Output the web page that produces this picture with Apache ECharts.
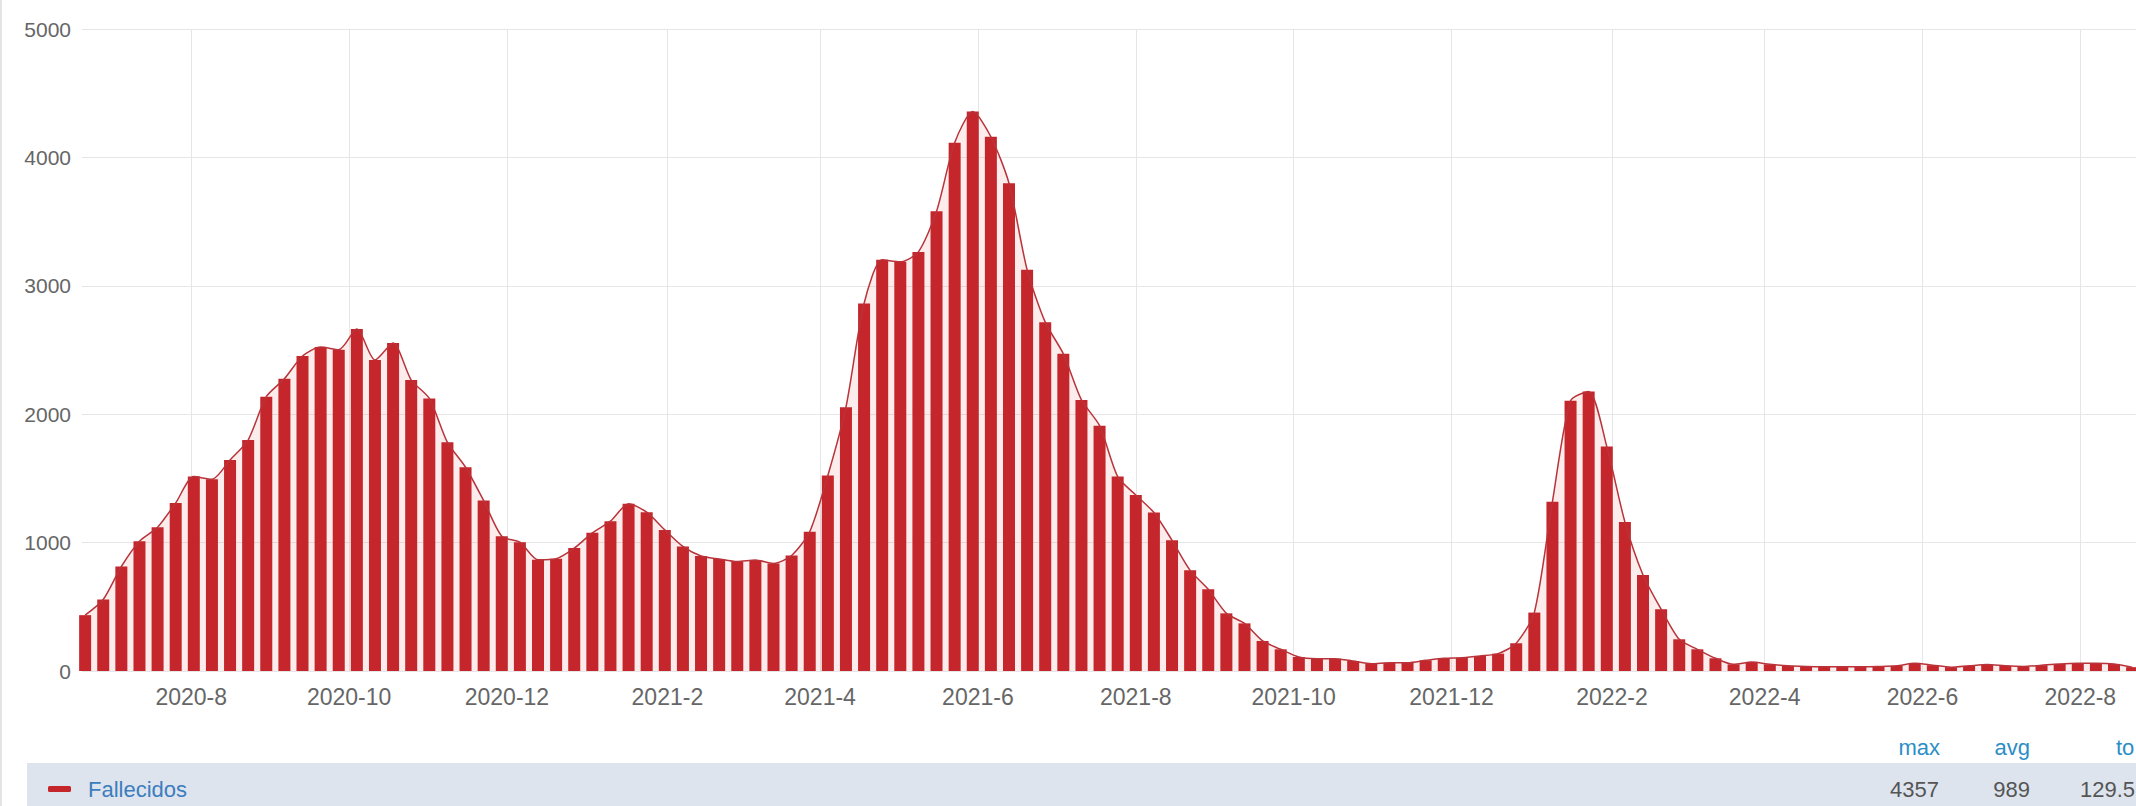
<!DOCTYPE html>
<html>
<head>
<meta charset="utf-8">
<script src="https://cdn.jsdelivr.net/npm/echarts@6/dist/echarts.min.js"></script>
<style>
html, body { margin: 0; padding: 0; background: #fff; }
#chart { width: 2136px; height: 806px; }
</style>
</head>
<body>
<div id="chart"></div>
<script>
// weekly deaths, first week starts 2020-06-21
const firstWeek = '2020-06-21';
const fallecidos = [
	435, 557, 814, 1011, 1120, 1309, 1514, 1493, 1644, 1799,
	2136, 2276, 2453, 2523, 2502, 2663, 2422, 2554, 2266, 2123,
	1781, 1587, 1327, 1050, 1003, 866, 874, 957, 1076, 1167,
	1302, 1237, 1099, 970, 895, 872, 852, 864, 838, 900,
	1085, 1522, 2055, 2862, 3202, 3187, 3264, 3580, 4114, 4357,
	4161, 3799, 3125, 2717, 2470, 2111, 1911, 1514, 1371, 1234,
	1018, 784, 636, 449, 371, 234, 169, 109, 96, 96,
	78, 57, 65, 65, 83, 99, 104, 117, 135, 216,
	455, 1319, 2104, 2177, 1748, 1161, 748, 481, 247, 169,
	99, 52, 70, 52, 40, 35, 33, 33, 33, 35,
	40, 60, 45, 30, 40, 50, 40, 35, 45, 55,
	60, 60, 55, 30
];
const monthLabels = [
	'2020-8', '2020-10', '2020-12', '2021-2', '2021-4', '2021-6', '2021-8',
	'2021-10', '2021-12', '2022-2', '2022-4', '2022-6', '2022-8'
];
// the stats row is cut by the right edge in the original, only these parts show
const statHeaders = ['max', 'avg', 'to'];
const statValues = ['4357', '989', '129.5'];

const font = "'Liberation Sans', Arial, sans-serif";

function parseDay(s) {
	let p = s.split('-');
	return new Date(+p[0], +p[1] - 1, p[2] ? +p[2] : 1).getTime();
}

const DAY = 86400000;
let weeks = [];
let start = parseDay(firstWeek);
for (let i = 0; i < fallecidos.length; i++) {
	weeks.push([start + i * 7 * DAY, fallecidos[i]]);
}
let monthTimes = monthLabels.map(parseDay);

// visible window of the date axis (the original chart is cut on the right)
const axisMin = new Date(2020, 5, 19, 19).getTime();
const axisMax = new Date(2022, 7, 22, 12).getTime();

// column layout of the stats row
const statX = [1940, 2030, 2116];
const statAlign = ['right', 'right', 'left'];
const valueX = [1939, 2030, 2080];

let graphics = [
	{ type: 'rect', shape: { x: 0, y: 0, width: 2, height: 806 }, style: { fill: '#e4e4e4' }, silent: true },
	{ type: 'rect', shape: { x: 27, y: 763, width: 2109, height: 43 }, style: { fill: '#dde4ee' }, silent: true }
];
statHeaders.forEach((t, i) => {
	graphics.push({
		type: 'text', silent: true,
		style: { text: t, x: statX[i], y: 747, align: statAlign[i], verticalAlign: 'middle',
			fill: '#2c8ec6', fontSize: 22, fontFamily: font }
	});
	graphics.push({
		type: 'text', silent: true, z: 10,
		style: { text: statValues[i], x: valueX[i], y: 789, align: statAlign[i], verticalAlign: 'middle',
			fill: '#555', fontSize: 22, fontFamily: font }
	});
});

var chart = echarts.init(document.getElementById('chart'), null, { renderer: 'svg' });

var option = {
	animation: false,
	backgroundColor: '#fff',
	grid: {
		left: 82,
		right: 0,
		top: 29,
		bottom: 135,
		outerBoundsMode: 'none'
	},
	legend: {
		data: [{ name: 'Fallecidos', icon: 'roundRect' }],
		left: 43,
		top: 773,
		itemWidth: 23,
		itemHeight: 6,
		selectedMode: false,
		textStyle: {
			color: '#3c7dbd',
			fontSize: 22,
			fontFamily: font,
			padding: [0, 0, 0, 12]
		}
	},
	graphic: graphics,
	xAxis: {
		type: 'value',
		min: axisMin,
		max: axisMax,
		axisLine: { show: false },
		axisTick: { show: false },
		splitLine: { show: false },
		axisLabel: {
			customValues: monthTimes,
			formatter: function (v) {
				let d = new Date(v);
				return d.getFullYear() + '-' + (d.getMonth() + 1);
			},
			color: '#666',
			fontSize: 23,
			fontFamily: font,
			margin: 14
		}
	},
	yAxis: {
		type: 'value',
		min: 0,
		max: 5000,
		interval: 1000,
		axisLine: { show: false },
		axisTick: { show: false },
		axisLabel: {
			formatter: (v) => String(v),
			color: '#666',
			fontSize: 21,
			fontFamily: font,
			margin: 11
		},
		splitLine: {
			lineStyle: { color: '#e6e6e6', width: 1 }
		}
	},
	series: [
		{
			name: 'area',
			type: 'line',
			data: weeks,
			smooth: 0.25,
			symbol: 'none',
			z: 1,
			lineStyle: { width: 0 },
			areaStyle: { color: 'rgba(230, 80, 80, 0.15)' },
			markLine: {
				silent: true,
				z: 0,
				symbol: ['none', 'none'],
				label: { show: false },
				lineStyle: { color: '#e6e6e6', width: 1, type: 'solid' },
				data: monthTimes.map((t) => ({ xAxis: t }))
			}
		},
		{
			name: 'Fallecidos',
			type: 'bar',
			data: weeks,
			barWidth: 12,
			z: 2,
			itemStyle: { color: '#c4262b' }
		},
		{
			name: 'trend',
			type: 'line',
			data: weeks,
			smooth: 0.25,
			symbol: 'none',
			z: 3,
			lineStyle: { color: '#b8343a', width: 1.5 }
		}
	]
};

chart.setOption(option);
</script>
</body>
</html>
